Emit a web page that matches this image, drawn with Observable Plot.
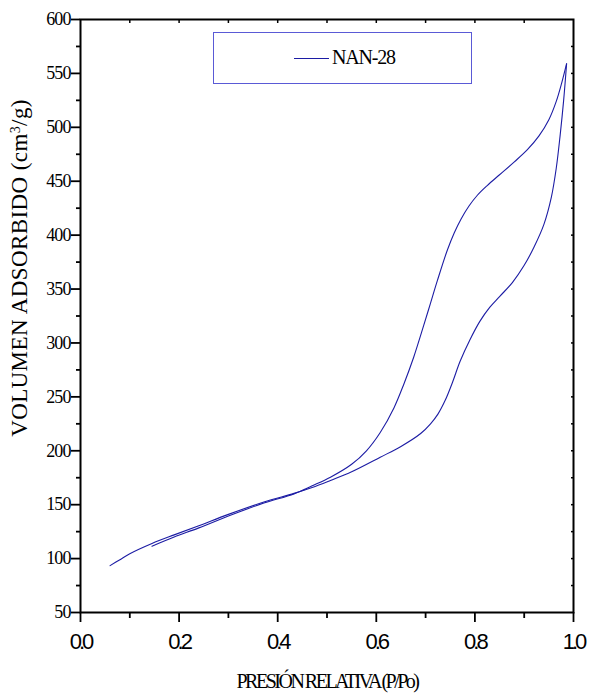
<!DOCTYPE html>
<html>
<head>
<meta charset="utf-8">
<script src="https://cdn.jsdelivr.net/npm/d3@7"></script>
<script src="https://cdn.jsdelivr.net/npm/@observablehq/plot@0.6"></script>
<style>
  html, body { margin: 0; padding: 0; background: #fff; }
  #wrap { position: relative; width: 590px; height: 696px; }
  #legend { position: absolute; left: 213px; top: 32px; width: 259px; height: 52px;
    border: 1px solid #5a5ad6; box-sizing: border-box; background: #fff; }
  #legend .ln { position: absolute; left: 80px; top: 25px; width: 35px; height: 0;
    border-top: 1.4px solid #1c1ca4; }
  #legend .tx { position: absolute; left: 118px; top: 13px; font-family: "Liberation Serif", "Times New Roman", serif;
    font-size: 20px; letter-spacing: -1.2px; color: #000; }
  svg .xtl { font-family: "Liberation Sans", Arial, sans-serif !important; font-size: 22px !important; letter-spacing: -3px; }
  svg .ytl { font-family: "Liberation Serif", "Times New Roman", serif !important; font-size: 18px !important; letter-spacing: -0.9px; }
  svg .ttl { font-family: "Liberation Serif", "Times New Roman", serif; }
</style>
</head>
<body>
<div id="wrap">
  <div id="chart"></div>
  <div id="legend"><div class="ln"></div><div class="tx">NAN-28</div></div>
</div>
<script>
// Adsorption branch (P/Po, volume cm3/g)
const adsP = [0.060, 0.080, 0.100, 0.145, 0.190, 0.240, 0.300, 0.372, 0.433, 0.470, 0.507, 0.550, 0.608, 0.650, 0.690, 0.710, 0.725, 0.740, 0.755, 0.770, 0.790, 0.810, 0.830, 0.850, 0.876, 0.900, 0.920, 0.940, 0.955, 0.965, 0.973, 0.980, 0.986];
const adsV = [93.5, 99, 104.5, 114, 122, 130.5, 141, 152.5, 160.5, 166, 172.5, 180.5, 194, 204, 216, 225, 234, 247, 264, 283, 303, 320, 333, 343, 356, 372, 389, 410, 435, 462, 493, 525, 559];
// Desorption branch
const desP = [0.986, 0.976, 0.965, 0.950, 0.930, 0.906, 0.880, 0.850, 0.825, 0.805, 0.788, 0.772, 0.758, 0.744, 0.724, 0.710, 0.696, 0.676, 0.656, 0.636, 0.608, 0.580, 0.550, 0.507, 0.470, 0.433, 0.372, 0.300, 0.240, 0.190, 0.145];
const desV = [559, 541, 524, 507, 492, 479, 468, 456, 446, 437, 427, 415, 402, 386, 358, 337, 316, 287, 262, 240, 217, 200, 187.5, 175.5, 167.5, 160, 151.5, 139.5, 128.5, 120, 111.5];

const xMajor = [0.0, 0.2, 0.4, 0.6, 0.8, 1.0];
const xMinor = [0.1, 0.3, 0.5, 0.7, 0.9];
const xTop = [0.1, 0.2, 0.3, 0.4, 0.5, 0.6, 0.7, 0.8, 0.9];
const yMajor = [50, 100, 150, 200, 250, 300, 350, 400, 450, 500, 550, 600];
const yMinor = [75, 125, 175, 225, 275, 325, 375, 425, 475, 525, 575];
const yRight = [75, 100, 125, 150, 175, 200, 225, 250, 275, 300, 325, 350, 375, 400, 425, 450, 475, 500, 525, 550, 575];

const xTitle = "PRESIÓN RELATIVA (P/Po)";
const seriesName = "NAN-28";

const rows = [
  ...adsP.map((p, i) => ({p, v: adsV[i], branch: "ads"})),
  ...desP.map((p, i) => ({p, v: desV[i], branch: "des"}))
];

const ink = "#000";
const chart = Plot.plot({
  width: 590, height: 696,
  marginLeft: 80, marginRight: 17, marginTop: 19, marginBottom: 84,
  style: {background: "#fff", color: ink, overflow: "visible"},
  x: {domain: [0, 1]},
  y: {domain: [50, 600]},
  marks: [
    Plot.line(rows, {x: "p", y: "v", z: "branch", stroke: "#1c1ca4", strokeWidth: 1.1, curve: "catmull-rom"}),
    Plot.axisX({ticks: xMajor, tickSize: 10, tickPadding: 11, strokeWidth: 1.8, tickFormat: d3.format(".1f"), label: null}),
    Plot.axisX({ticks: xMinor, tickSize: 6, strokeWidth: 1.8, tickFormat: () => "", label: null}),
    Plot.axisX({anchor: "top", ticks: xTop, tickSize: 3, dy: 3, strokeWidth: 1.5, tickFormat: () => "", label: null}),
    Plot.axisY({ticks: yMajor, tickSize: 9, tickPadding: 1, strokeWidth: 1.8, tickFormat: d => String(d), label: null}),
    Plot.axisY({ticks: yMinor, tickSize: 4, strokeWidth: 1.8, tickFormat: () => "", label: null}),
    Plot.axisY({anchor: "right", ticks: yRight, tickSize: 3, dx: -3, strokeWidth: 1.5, tickFormat: () => "", label: null}),
    Plot.frame({stroke: ink, strokeWidth: 2})
  ]
});
document.getElementById("chart").appendChild(chart);

const svg = d3.select(chart);
svg.selectAll("text").each(function() {
  const t = this.textContent;
  if (xMajor.map(d3.format(".1f")).includes(t)) d3.select(this).classed("xtl", true);
  else if (yMajor.map(String).includes(t)) d3.select(this).classed("ytl", true);
});

// Axis titles
svg.append("text")
  .attr("class", "ttl")
  .attr("x", 327).attr("y", 688)
  .attr("text-anchor", "middle")
  .style("font-size", "20px")
  .style("letter-spacing", "-2.5px")
  .text(xTitle);

const yt = svg.append("text")
  .attr("class", "ttl")
  .attr("transform", "translate(27,268) rotate(-90)")
  .attr("text-anchor", "middle")
  .style("font-size", "23px")
  .style("letter-spacing", "0.4px");
yt.append("tspan").text("VOLUMEN ADSORBIDO (cm");
yt.append("tspan").attr("baseline-shift", "super").style("font-size", "14px").text("3");
yt.append("tspan").text("/g)");
</script>
</body>
</html>
